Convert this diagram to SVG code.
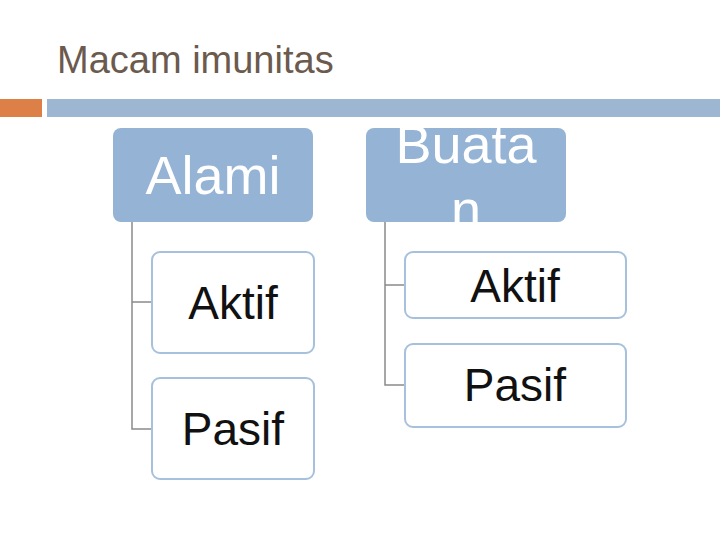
<svg xmlns="http://www.w3.org/2000/svg" width="720" height="540" viewBox="0 0 720 540">
<style>
.hd{fill:#95b3d4;}
.ch{fill:#fff;stroke:#a7c0dc;stroke-width:2;}
.ht{font-family:"Liberation Sans",Arial,sans-serif;font-size:54px;fill:#fff;text-anchor:middle;}
.ct{font-family:"Liberation Sans",Arial,sans-serif;font-size:46px;fill:#111;text-anchor:middle;}
</style>
<rect width="720" height="540" fill="#fff"/>
<text x="57" y="73" font-family="Liberation Sans,Arial,sans-serif" font-size="38" fill="#6b5a4d">Macam imunitas</text>
<rect x="0" y="99" width="42" height="18" fill="#dd8047"/>
<rect x="47" y="99" width="673" height="18" fill="#9db7d2"/>
<g id="connectors" fill="none" stroke="#8a8a8a" stroke-width="1.5">
<path d="M132 222V429H152M132 302H152"/>
<path d="M385 222V385H405M385 285H405"/>
</g>
<g id="alami"><rect class="hd" x="113" y="128" width="200" height="94" rx="8"/><text class="ht" x="213" y="194">Alami</text></g>
<g id="buatan"><rect class="hd" x="366" y="128" width="200" height="94" rx="8"/><text class="ht" x="466" y="163">Buata</text><text class="ht" x="466" y="228">n</text></g>
<g id="aktif1"><rect class="ch" x="152" y="252" width="162" height="101" rx="8"/><text class="ct" x="233" y="319">Aktif</text></g>
<g id="pasif1"><rect class="ch" x="152" y="378" width="162" height="101" rx="8"/><text class="ct" x="233" y="445">Pasif</text></g>
<g id="aktif2"><rect class="ch" x="405" y="252" width="221" height="66" rx="8"/><text class="ct" x="515" y="302">Aktif</text></g>
<g id="pasif2"><rect class="ch" x="405" y="344" width="221" height="83" rx="8"/><text class="ct" x="515" y="401">Pasif</text></g>
</svg>
